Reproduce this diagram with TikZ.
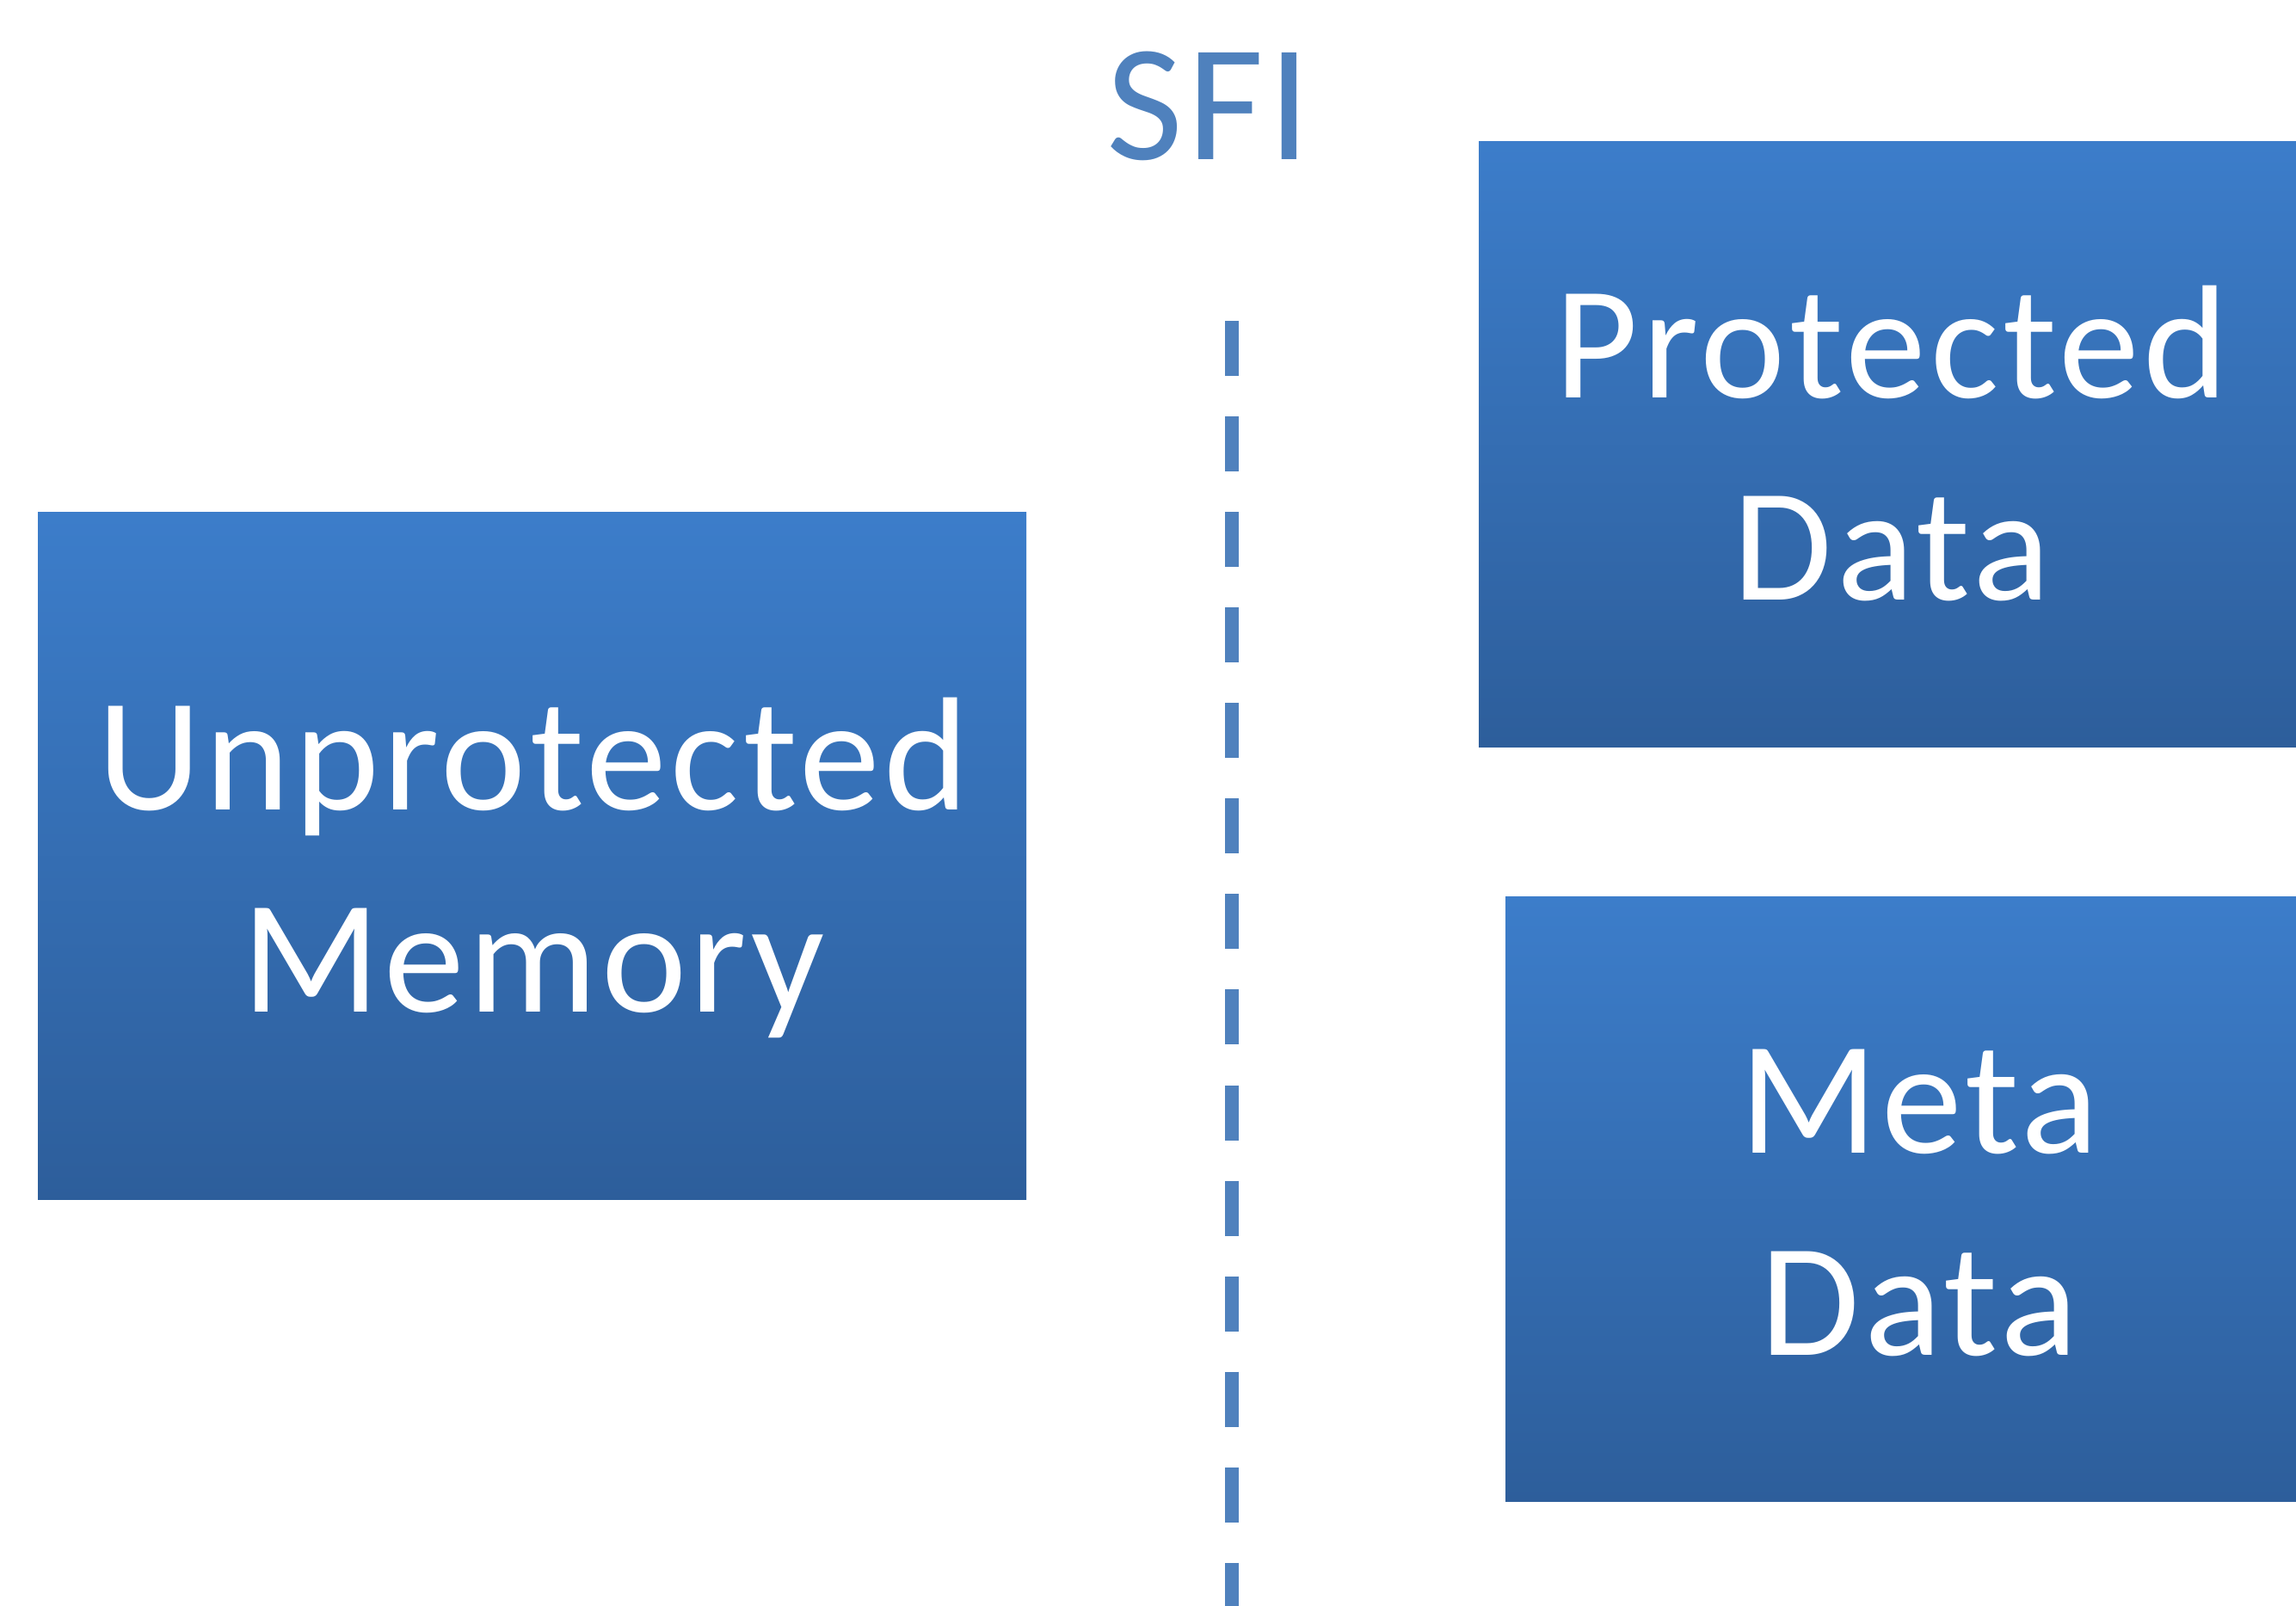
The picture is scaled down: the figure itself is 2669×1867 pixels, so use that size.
\documentclass[tikz,border=0pt]{standalone}
\usepackage{fontspec}
\setmainfont{Carlito}[LetterSpace=2.5]
\definecolor{boxtop}{HTML}{3C7DCA}
\definecolor{boxbot}{HTML}{2D5E9B}
\definecolor{sfiblue}{HTML}{4F81BD}
\begin{document}
\begin{tikzpicture}[x=0.01cm,y=-0.01cm,
  membox/.style={rectangle, inner sep=0pt, outer sep=0pt, top color=boxtop, bottom color=boxbot, draw=none},
  boxtext/.style={anchor=base, inner sep=0pt, text=white, font=\fontsize{53.4}{66}\selectfont},
  sfitext/.style={anchor=base, inner sep=0pt, text=sfiblue, font=\fontsize{55}{66}\selectfont},
  sfiline/.style={draw=sfiblue, line width=0.16cm, dash pattern=on 0.64cm off 0.47cm, line cap=butt}]
\useasboundingbox (0,0) rectangle (2669,1867);
\clip (0,0) rectangle (2669,1867);
\fill[white] (0,0) rectangle (2669,1867);
% boxes
\path[membox] (44,596) rectangle (1193,1394) node[pos=0.5] (unprot) {};
\path[membox] (1719,165) rectangle (2680,868) node[pos=0.5] (prot) {};
\path[membox] (1750,1042) rectangle (2710,1745) node[pos=0.5] (meta) {};
% texts
\node[boxtext] (t1) at (620,941) {Unprotected};
\node[boxtext] (t2) at (620,1176) {Memory};
\node[boxtext] (t3) at (2199,463) {Protected};
\node[boxtext] (t4) at (2199,698) {Data};
\node[boxtext] (t5) at (2231,1340) {Meta};
\node[boxtext] (t6) at (2231,1575) {Data};
\node[sfitext] (sfi) at (1405,186) {SFI};
% dashed separator
\coordinate (ltop) at (1432,373);
\coordinate (lbot) at (1432,1880);
\draw[sfiline] (ltop) -- (lbot);
\end{tikzpicture}
\end{document}
